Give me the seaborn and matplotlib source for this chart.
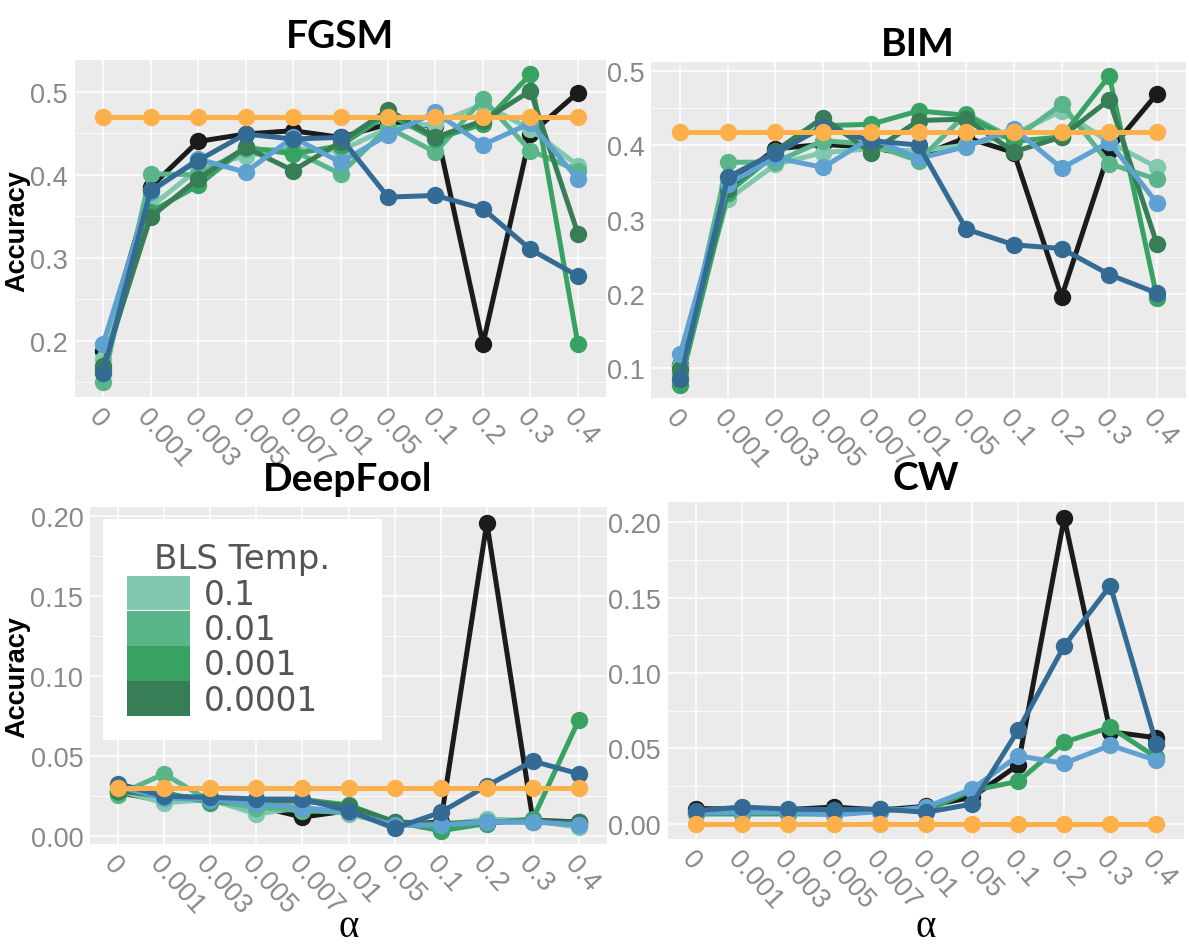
import numpy as np
import pandas as pd
import matplotlib
matplotlib.use("Agg")
import matplotlib.pyplot as plt
import seaborn as sns
from matplotlib.patches import Patch
from matplotlib.ticker import MultipleLocator, FormatStrFormatter

# ---------------- data ----------------
alphas = ["0", "0.001", "0.003", "0.005", "0.007", "0.01", "0.05", "0.1", "0.2", "0.3", "0.4"]
temps = ["0.1", "0.01", "0.001", "0.0001"]

fgsm_baseline = [0.470] * 11
fgsm_black = [0.188, 0.385, 0.440, 0.449, 0.453, 0.445, 0.461, 0.459, 0.196, 0.449, 0.499]
fgsm_darkblue = [0.161, 0.381, 0.417, 0.449, 0.443, 0.445, 0.373, 0.375, 0.359, 0.310, 0.278]
fgsm_lightblue = [0.196, 0.379, 0.419, 0.403, 0.445, 0.415, 0.448, 0.475, 0.436, 0.462, 0.395]
fgsm_t1 = [0.178, 0.361, 0.407, 0.423, 0.431, 0.429, 0.456, 0.461, 0.485, 0.455, 0.411]
fgsm_t01 = [0.150, 0.401, 0.400, 0.431, 0.429, 0.401, 0.457, 0.427, 0.491, 0.429, 0.405]
fgsm_t001 = [0.166, 0.355, 0.387, 0.433, 0.425, 0.435, 0.473, 0.443, 0.461, 0.521, 0.196]
fgsm_t0001 = [0.170, 0.349, 0.395, 0.433, 0.405, 0.439, 0.478, 0.445, 0.465, 0.501, 0.329]

bim_baseline = [0.418] * 11
bim_black = [0.105, 0.345, 0.395, 0.401, 0.397, 0.385, 0.410, 0.390, 0.196, 0.392, 0.469]
bim_darkblue = [0.085, 0.357, 0.390, 0.424, 0.406, 0.400, 0.287, 0.266, 0.261, 0.226, 0.201]
bim_lightblue = [0.119, 0.348, 0.383, 0.370, 0.410, 0.382, 0.398, 0.422, 0.369, 0.404, 0.322]
bim_t1 = [0.103, 0.327, 0.374, 0.390, 0.395, 0.392, 0.400, 0.415, 0.446, 0.404, 0.370]
bim_t01 = [0.092, 0.377, 0.377, 0.406, 0.401, 0.379, 0.442, 0.408, 0.455, 0.375, 0.354]
bim_t001 = [0.078, 0.336, 0.388, 0.426, 0.428, 0.446, 0.440, 0.405, 0.411, 0.493, 0.195]
bim_t0001 = [0.099, 0.341, 0.392, 0.437, 0.390, 0.433, 0.435, 0.391, 0.411, 0.461, 0.267]

df_baseline = [0.0305] * 11
df_black = [0.0275, 0.022, 0.023, 0.019, 0.012, 0.016, 0.007, 0.009, 0.196, 0.010, 0.009]
df_darkblue = [0.033, 0.025, 0.0244, 0.0233, 0.0233, 0.016, 0.005, 0.015, 0.0316, 0.047, 0.039]
df_lightblue = [0.031, 0.024, 0.023, 0.020, 0.018, 0.015, 0.007, 0.007, 0.009, 0.009, 0.007]
df_t1 = [0.0285, 0.021, 0.023, 0.014, 0.018, 0.014, 0.007, 0.007, 0.0108, 0.0098, 0.0056]
df_t01 = [0.026, 0.039, 0.022, 0.018, 0.016, 0.015, 0.008, 0.0056, 0.009, 0.010, 0.007]
df_t001 = [0.0275, 0.0275, 0.021, 0.022, 0.023, 0.0196, 0.009, 0.0035, 0.008, 0.011, 0.073]
df_t0001 = [0.0285, 0.025, 0.024, 0.022, 0.022, 0.019, 0.009, 0.008, 0.009, 0.009, 0.009]

cw_baseline = [0.0] * 11
cw_black = [0.010, 0.0097, 0.0093, 0.011, 0.009, 0.0115, 0.0175, 0.039, 0.203, 0.061, 0.057]
cw_darkblue = [0.0086, 0.011, 0.0097, 0.0093, 0.0097, 0.0075, 0.013, 0.062, 0.118, 0.158, 0.053]
cw_lightblue = [0.007, 0.0075, 0.0075, 0.0058, 0.008, 0.011, 0.023, 0.045, 0.040, 0.052, 0.042]
cw_t001 = [0.0064, 0.0064, 0.0064, 0.0064, 0.010, 0.0086, 0.022, 0.028, 0.054, 0.064, 0.044]

# ---------------- style ----------------
palette = {
    "black": "#1b1b1b",
    "t1": "#80c9ae",
    "t01": "#5ab68a",
    "t001": "#38a262",
    "t0001": "#377d55",
    "lightblue": "#5fa2d2",
    "darkblue": "#336b94",
    "baseline": "#fdb04a",
}
draw_order = ["black", "t1", "t01", "t001", "t0001", "lightblue", "darkblue", "baseline"]

sns.set_theme(style="darkgrid", rc={
    "axes.facecolor": "#ebebeb",
    "grid.color": "white",
    "axes.edgecolor": "none",
})
plt.rcParams["font.family"] = ["Liberation Sans", "DejaVu Sans"]

W, H = 1189, 945
fig = plt.figure(figsize=(W / 100, H / 100), dpi=100)

def frac(l, r, t, b):
    return [l / W, 1 - b / H, (r - l) / W, (b - t) / H]

panels = [
    dict(name="FGSM", rect=frac(74.6, 606.4, 61, 397.7), ylim=(0.1325, 0.5382), step=0.1, fmt="%.1f",
         title_xy=(340, 36), ylabel_y=231, xlabel=False,
         data=dict(baseline=fgsm_baseline, black=fgsm_black, darkblue=fgsm_darkblue, lightblue=fgsm_lightblue,
                   t1=fgsm_t1, t01=fgsm_t01, t001=fgsm_t001, t0001=fgsm_t0001)),
    dict(name="BIM", rect=frac(651.5, 1185.6, 62.7, 399), ylim=(0.0601, 0.5121), step=0.1, fmt="%.1f",
         title_xy=(918, 44), ylabel_y=None, xlabel=False,
         data=dict(baseline=bim_baseline, black=bim_black, darkblue=bim_darkblue, lightblue=bim_lightblue,
                   t1=bim_t1, t01=bim_t01, t001=bim_t001, t0001=bim_t0001)),
    dict(name="DeepFool", rect=frac(90.3, 606.7, 507.7, 845), ylim=(-0.0048, 0.206), step=0.05, fmt="%.2f",
         title_xy=(348, 480), ylabel_y=677, xlabel=True,
         data=dict(baseline=df_baseline, black=df_black, darkblue=df_darkblue, lightblue=df_lightblue,
                   t1=df_t1, t01=df_t01, t001=df_t001, t0001=df_t0001)),
    dict(name="CW", rect=frac(668, 1184, 502.7, 840), ylim=(-0.0102, 0.2137), step=0.05, fmt="%.2f",
         title_xy=(926, 479), ylabel_y=None, xlabel=True,
         data=dict(baseline=cw_baseline, black=cw_black, darkblue=cw_darkblue, lightblue=cw_lightblue,
                   t001=cw_t001)),
]

tick_color = "#888888"

for p in panels:
    ax = fig.add_axes(p["rect"])
    rows = []
    for key, vals in p["data"].items():
        for i, v in enumerate(vals):
            rows.append({"pos": i, "acc": v, "series": key})
    d = pd.DataFrame(rows)
    order = [k for k in draw_order if k in p["data"]]
    sns.lineplot(data=d, x="pos", y="acc", hue="series", hue_order=order,
                 palette=palette, marker="o", markersize=12.5, markeredgewidth=0,
                 linewidth=3.6, errorbar=None, legend=False, ax=ax)
    ax.set_xlim(-0.6, 10.6)
    ax.set_ylim(*p["ylim"])
    ax.set_xticks(range(len(alphas)))
    ax.set_xticklabels(alphas, rotation=-48, ha="left", va="top", rotation_mode="anchor")
    ax.yaxis.set_major_locator(MultipleLocator(p["step"]))
    ax.yaxis.set_minor_locator(MultipleLocator(p["step"] / 2))
    ax.yaxis.set_major_formatter(FormatStrFormatter(p["fmt"]))
    ax.grid(which="major", color="white", linewidth=1.1)
    ax.grid(which="minor", axis="y", color="white", linewidth=0.55)
    ax.grid(which="minor", axis="x", visible=False)
    ax.tick_params(axis="both", which="major", length=3.5, width=1, color="#777777",
                   labelsize=19.5, labelcolor=tick_color, pad=1.5)
    ax.tick_params(axis="both", which="minor", length=0)
    ax.set_xlabel("")
    ax.set_ylabel("")
    for s in ax.spines.values():
        s.set_visible(False)
    fig.text(p["title_xy"][0] / W, 1 - p["title_xy"][1] / H, p["name"], ha="center", va="center",
             fontsize=28, fontweight="bold", family=["Lato", "DejaVu Sans"], color="black")
    if p["ylabel_y"] is not None:
        fig.text(17 / W, 1 - p["ylabel_y"] / H, "Accuracy", rotation=90, ha="center", va="center",
                 fontsize=19.5, fontweight="bold", color="black")
    if p["xlabel"]:
        cx = (p["rect"][0] + p["rect"][2] / 2)
        fig.text(cx, 1 - 937 / H, "α", ha="center", va="baseline", fontsize=28,
                 family=["Liberation Serif", "DejaVu Serif"], color="black")
    if p["name"] == "DeepFool":
        handles = [Patch(facecolor=palette[k], edgecolor="none") for k in ["t1", "t01", "t001", "t0001"]]
        x0 = (103 - 90.3) / 516.4
        y0 = 1 - (520 - 507.7) / 337.3
        wbox = (381.5 - 103) / 516.4
        leg = ax.legend(handles, temps, title="BLS Temp.", loc="upper left",
                        bbox_to_anchor=(x0, y0, wbox, 0.0), mode="expand",
                        frameon=True, fancybox=False, framealpha=1, facecolor="white", edgecolor="none",
                        prop={"family": "DejaVu Sans", "size": 23.5},
                        title_fontproperties={"family": "DejaVu Sans", "size": 24.5},
                        handlelength=1.96, handleheight=1.26, labelspacing=0.0,
                        handletextpad=0.4, borderpad=0.72, borderaxespad=0)
        for t in leg.get_texts():
            t.set_color("#555555")
        leg.get_title().set_color("#555555")

fig.savefig("out.png", dpi=100)
